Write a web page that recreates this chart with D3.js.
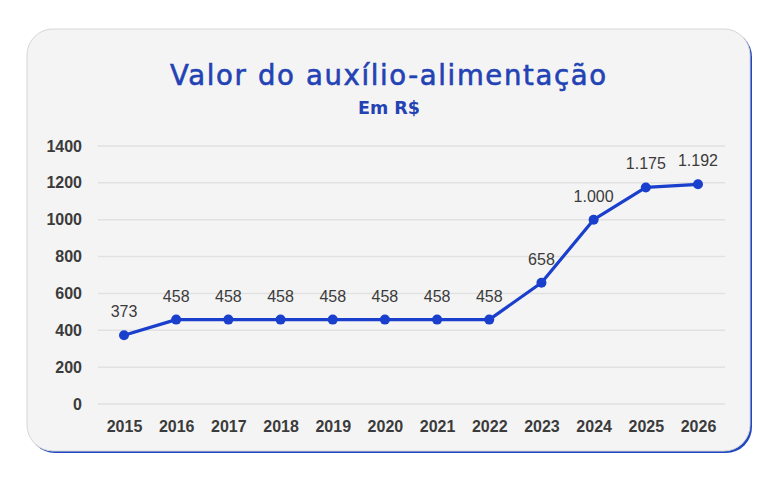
<!DOCTYPE html>
<html>
<head>
<meta charset="utf-8">
<script src="https://cdn.jsdelivr.net/npm/d3@7"></script>
<style>
    html, body { margin: 0; padding: 0; background: #ffffff; }
    svg { display: block; }
</style>
</head>
<body>
<div id="chart"></div>
<script>
const years = ['2015', '2016', '2017', '2018', '2019', '2020', '2021', '2022', '2023', '2024', '2025', '2026'];
const values = [373, 458, 458, 458, 458, 458, 458, 458, 658, 1000, 1175, 1192];
const valueLabels = ['373', '458', '458', '458', '458', '458', '458', '458', '658', '1.000', '1.175', '1.192'];
const yTicks = [0, 200, 400, 600, 800, 1000, 1200, 1400];

const TITLE = 'Valor do auxílio-alimentação';
const SUBTITLE = 'Em R$';
const LINE_COLOR = '#1a3fcc';
const TITLE_COLOR = '#2342b4';
const TEXT_COLOR = '#3b3b3b';

const width = 783;
const height = 484;

const svg = d3.select('#chart')
    .append('svg')
    .attr('width', width)
    .attr('height', height);

// card with blue edge on right/bottom
svg.append('rect')
    .attr('x', 29).attr('y', 31)
    .attr('width', 723).attr('height', 422)
    .attr('rx', 26)
    .attr('fill', '#2047c0');

svg.append('rect')
    .attr('x', 27).attr('y', 29)
    .attr('width', 723).attr('height', 422)
    .attr('rx', 26)
    .attr('fill', '#f4f4f4')
    .attr('stroke', '#d6d6d6')
    .attr('stroke-width', 1);

svg.append('text')
    .attr('x', 388)
    .attr('y', 85)
    .attr('text-anchor', 'middle')
    .attr('font-family', '"DejaVu Sans", sans-serif')
    .attr('font-size', 27.5)
    .attr('fill', TITLE_COLOR)
    .attr('stroke', TITLE_COLOR)
    .attr('stroke-width', 0.6)
    .attr('textLength', 436)
    .attr('lengthAdjust', 'spacing')
    .text(TITLE);

svg.append('text')
    .attr('x', 389)
    .attr('y', 114)
    .attr('text-anchor', 'middle')
    .attr('font-family', '"DejaVu Sans", sans-serif')
    .attr('font-size', 17)
    .attr('font-weight', 700)
    .attr('fill', TITLE_COLOR)
    .attr('textLength', 62)
    .attr('lengthAdjust', 'spacingAndGlyphs')
    .text(SUBTITLE);

const x = d3.scalePoint()
    .domain(years)
    .range([124, 698]);

const y = d3.scaleLinear()
    .domain([0, 1400])
    .range([404, 146]);

// gridlines
svg.append('g')
    .selectAll('line')
    .data(yTicks)
    .join('line')
    .attr('x1', 98)
    .attr('x2', 725)
    .attr('y1', (d) => y(d))
    .attr('y2', (d) => y(d))
    .attr('stroke', '#e1e1e1')
    .attr('stroke-width', 1.5);

const yAxis = svg.append('g')
    .attr('transform', 'translate(82,0)')
    .call(d3.axisLeft(y).tickValues(yTicks).tickSize(0).tickPadding(0).tickFormat(d3.format('d')));
yAxis.select('.domain').remove();
yAxis.selectAll('text')
    .attr('font-family', '"Liberation Sans", Arial, sans-serif')
    .attr('font-size', 16)
    .attr('font-weight', 600)
    .attr('fill', TEXT_COLOR);

const xAxis = svg.append('g')
    .attr('transform', 'translate(0,421)')
    .call(d3.axisBottom(x).tickSize(0).tickPadding(0));
xAxis.select('.domain').remove();
xAxis.selectAll('text')
    .attr('font-family', '"Liberation Sans", Arial, sans-serif')
    .attr('font-size', 16)
    .attr('font-weight', 600)
    .attr('fill', TEXT_COLOR);

const line = d3.line()
    .x((d, i) => x(years[i]))
    .y((d) => y(d));

svg.append('path')
    .datum(values)
    .attr('d', line)
    .attr('fill', 'none')
    .attr('stroke', LINE_COLOR)
    .attr('stroke-width', 3.2)
    .attr('stroke-linejoin', 'round');

svg.append('g')
    .selectAll('circle')
    .data(values)
    .join('circle')
    .attr('cx', (d, i) => x(years[i]))
    .attr('cy', (d) => y(d))
    .attr('r', 5)
    .attr('fill', LINE_COLOR);

svg.append('g')
    .selectAll('text')
    .data(values)
    .join('text')
    .attr('x', (d, i) => x(years[i]))
    .attr('y', (d) => y(d) - 18)
    .attr('text-anchor', 'middle')
    .attr('font-family', '"Liberation Sans", Arial, sans-serif')
    .attr('font-size', 16)
    .attr('fill', TEXT_COLOR)
    .text((d, i) => valueLabels[i]);
</script>
</body>
</html>
